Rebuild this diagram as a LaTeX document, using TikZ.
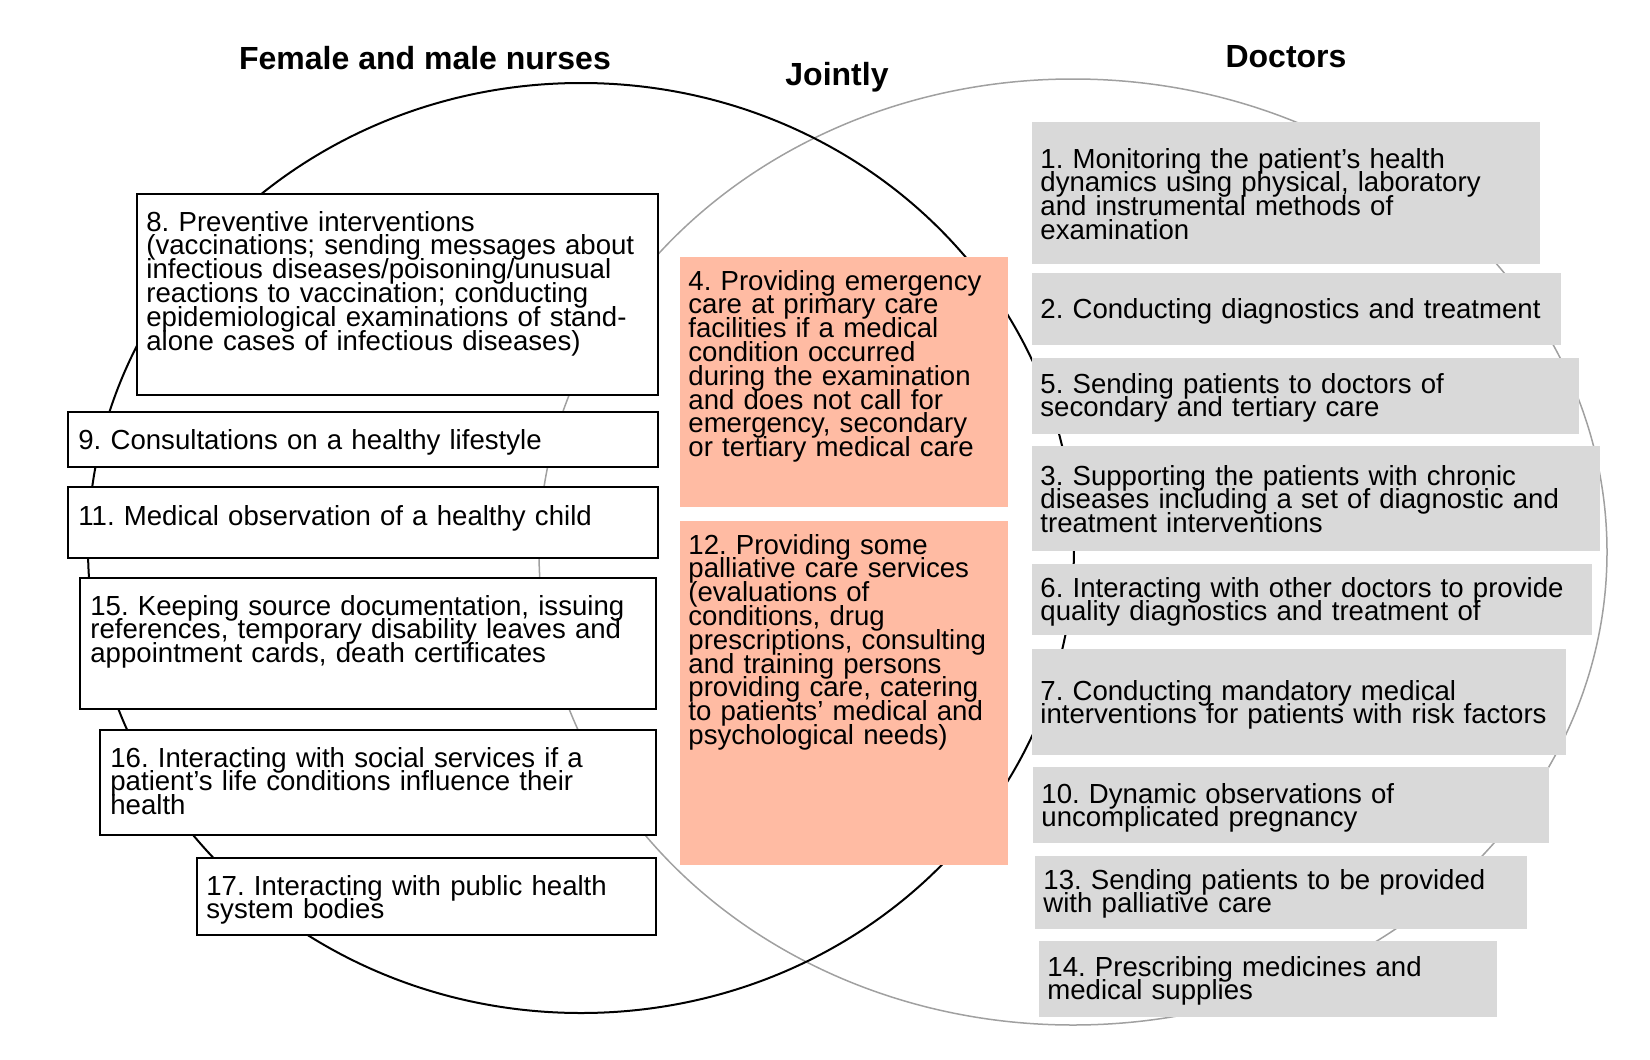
\documentclass[tikz,border=0pt]{standalone}
\usepackage{fontspec}
\setmainfont{Liberation Sans}
\definecolor{jointfill}{HTML}{FFBBA3}
\definecolor{docfill}{HTML}{D9D9D9}
\definecolor{docline}{HTML}{A0A0A0}
\tikzset{
  heading/.style={font=\bfseries\fontsize{16}{18}\selectfont, inner sep=0pt},
  itemtext/.style={anchor=base west, inner sep=0pt, align=left, text width=300pt,
    font=\fontsize{13.8}{11.9}\selectfont,
    execute at begin node={\frenchspacing\lineskiplimit=-100pt\relax}},
  nursebox/.style={draw=black, line width=1pt, fill=white},
  jointbox/.style={fill=jointfill},
  docbox/.style={fill=docfill}
}
\begin{document}
\begin{tikzpicture}[x=0.5pt, y=-0.5pt]
    \useasboundingbox (0,0) rectangle (1650,1060);
    % Circles
    \draw[docline, line width=0.75pt] (1073,552) ellipse [x radius=534, y radius=473];
    \draw[black, line width=1pt] (581,548) ellipse [x radius=493, y radius=465];

    % Headings
    \node[heading] (nurses) at (425,58) {Female and male nurses};
    \node[heading] (jointly) at (837,77) {Jointly};
    \node[heading] (doctors) at (1286,57) {Doctors};

    % Female and male nurses
    \draw[nursebox] (137,194) rectangle (658,395);
    \node[itemtext] (t8) at (146,231) {8. Preventive interventions\\
      (vaccinations; sending messages about\\
      infectious diseases/poisoning/unusual\\
      reactions to vaccination; conducting\\
      epidemiological examinations of stand-\\
      alone cases of infectious diseases)};
    \draw[nursebox] (68,412) rectangle (658,467);
    \node[itemtext] (t9) at (78,449) {9. Consultations on a healthy lifestyle};
    \draw[nursebox] (68,487) rectangle (658,558);
    \node[itemtext] (t11) at (78,525) {11. Medical observation of a healthy child};
    \draw[nursebox] (80,578) rectangle (656,709);
    \node[itemtext] (t15) at (90,615) {15. Keeping source documentation, issuing\\
      references, temporary disability leaves and\\
      appointment cards, death certificates};
    \draw[nursebox] (100,730) rectangle (656,835);
    \node[itemtext] (t16) at (110,767) {16. Interacting with social services if a\\
      patient’s life conditions influence their\\
      health};
    \draw[nursebox] (197,858) rectangle (656,935);
    \node[itemtext] (t17) at (206,895) {17. Interacting with public health\\
      system bodies};

    % Jointly
    \fill[jointbox] (680,257) rectangle (1008,507);
    \node[itemtext] (t4) at (688,290) {4. Providing emergency\\
      care at primary care\\
      facilities if a medical\\
      condition occurred\\
      during the examination\\
      and does not call for\\
      emergency, secondary\\
      or tertiary medical care};
    \fill[jointbox] (680,521) rectangle (1008,865);
    \node[itemtext] (t12) at (688,554) {12. Providing some\\
      palliative care services\\
      (evaluations of\\
      conditions, drug\\
      prescriptions, consulting\\
      and training persons\\
      providing care, catering\\
      to patients’ medical and\\
      psychological needs)};

    % Doctors
    \fill[docbox] (1032,122) rectangle (1540,264);
    \node[itemtext] (t1) at (1040,168) {1. Monitoring the patient’s health\\
      dynamics using physical, laboratory\\
      and instrumental methods of\\
      examination};
    \fill[docbox] (1032,273) rectangle (1561,345);
    \node[itemtext] (t2) at (1040,318) {2. Conducting diagnostics and treatment};
    \fill[docbox] (1032,358) rectangle (1579,434);
    \node[itemtext] (t5) at (1040,393) {5. Sending patients to doctors of\\
      secondary and tertiary care};
    \fill[docbox] (1032,446) rectangle (1600,551);
    \node[itemtext] (t3) at (1040,485) {3. Supporting the patients with chronic\\
      diseases including a set of diagnostic and\\
      treatment interventions};
    \fill[docbox] (1032,564) rectangle (1592,635);
    \node[itemtext] (t6) at (1040,597) {6. Interacting with other doctors to provide\\
      quality diagnostics and treatment of};
    \fill[docbox] (1032,649) rectangle (1566,755);
    \node[itemtext] (t7) at (1040,700) {7. Conducting mandatory medical\\
      interventions for patients with risk factors};
    \fill[docbox] (1033,767) rectangle (1549,843);
    \node[itemtext] (t10) at (1041,803) {10. Dynamic observations of\\
      uncomplicated pregnancy};
    \fill[docbox] (1035,856) rectangle (1527,929);
    \node[itemtext] (t13) at (1043,889) {13. Sending patients to be provided\\
      with palliative care};
    \fill[docbox] (1039,941) rectangle (1497,1017);
    \node[itemtext] (t14) at (1047,976) {14. Prescribing medicines and\\
      medical supplies};
\end{tikzpicture}
\end{document}
